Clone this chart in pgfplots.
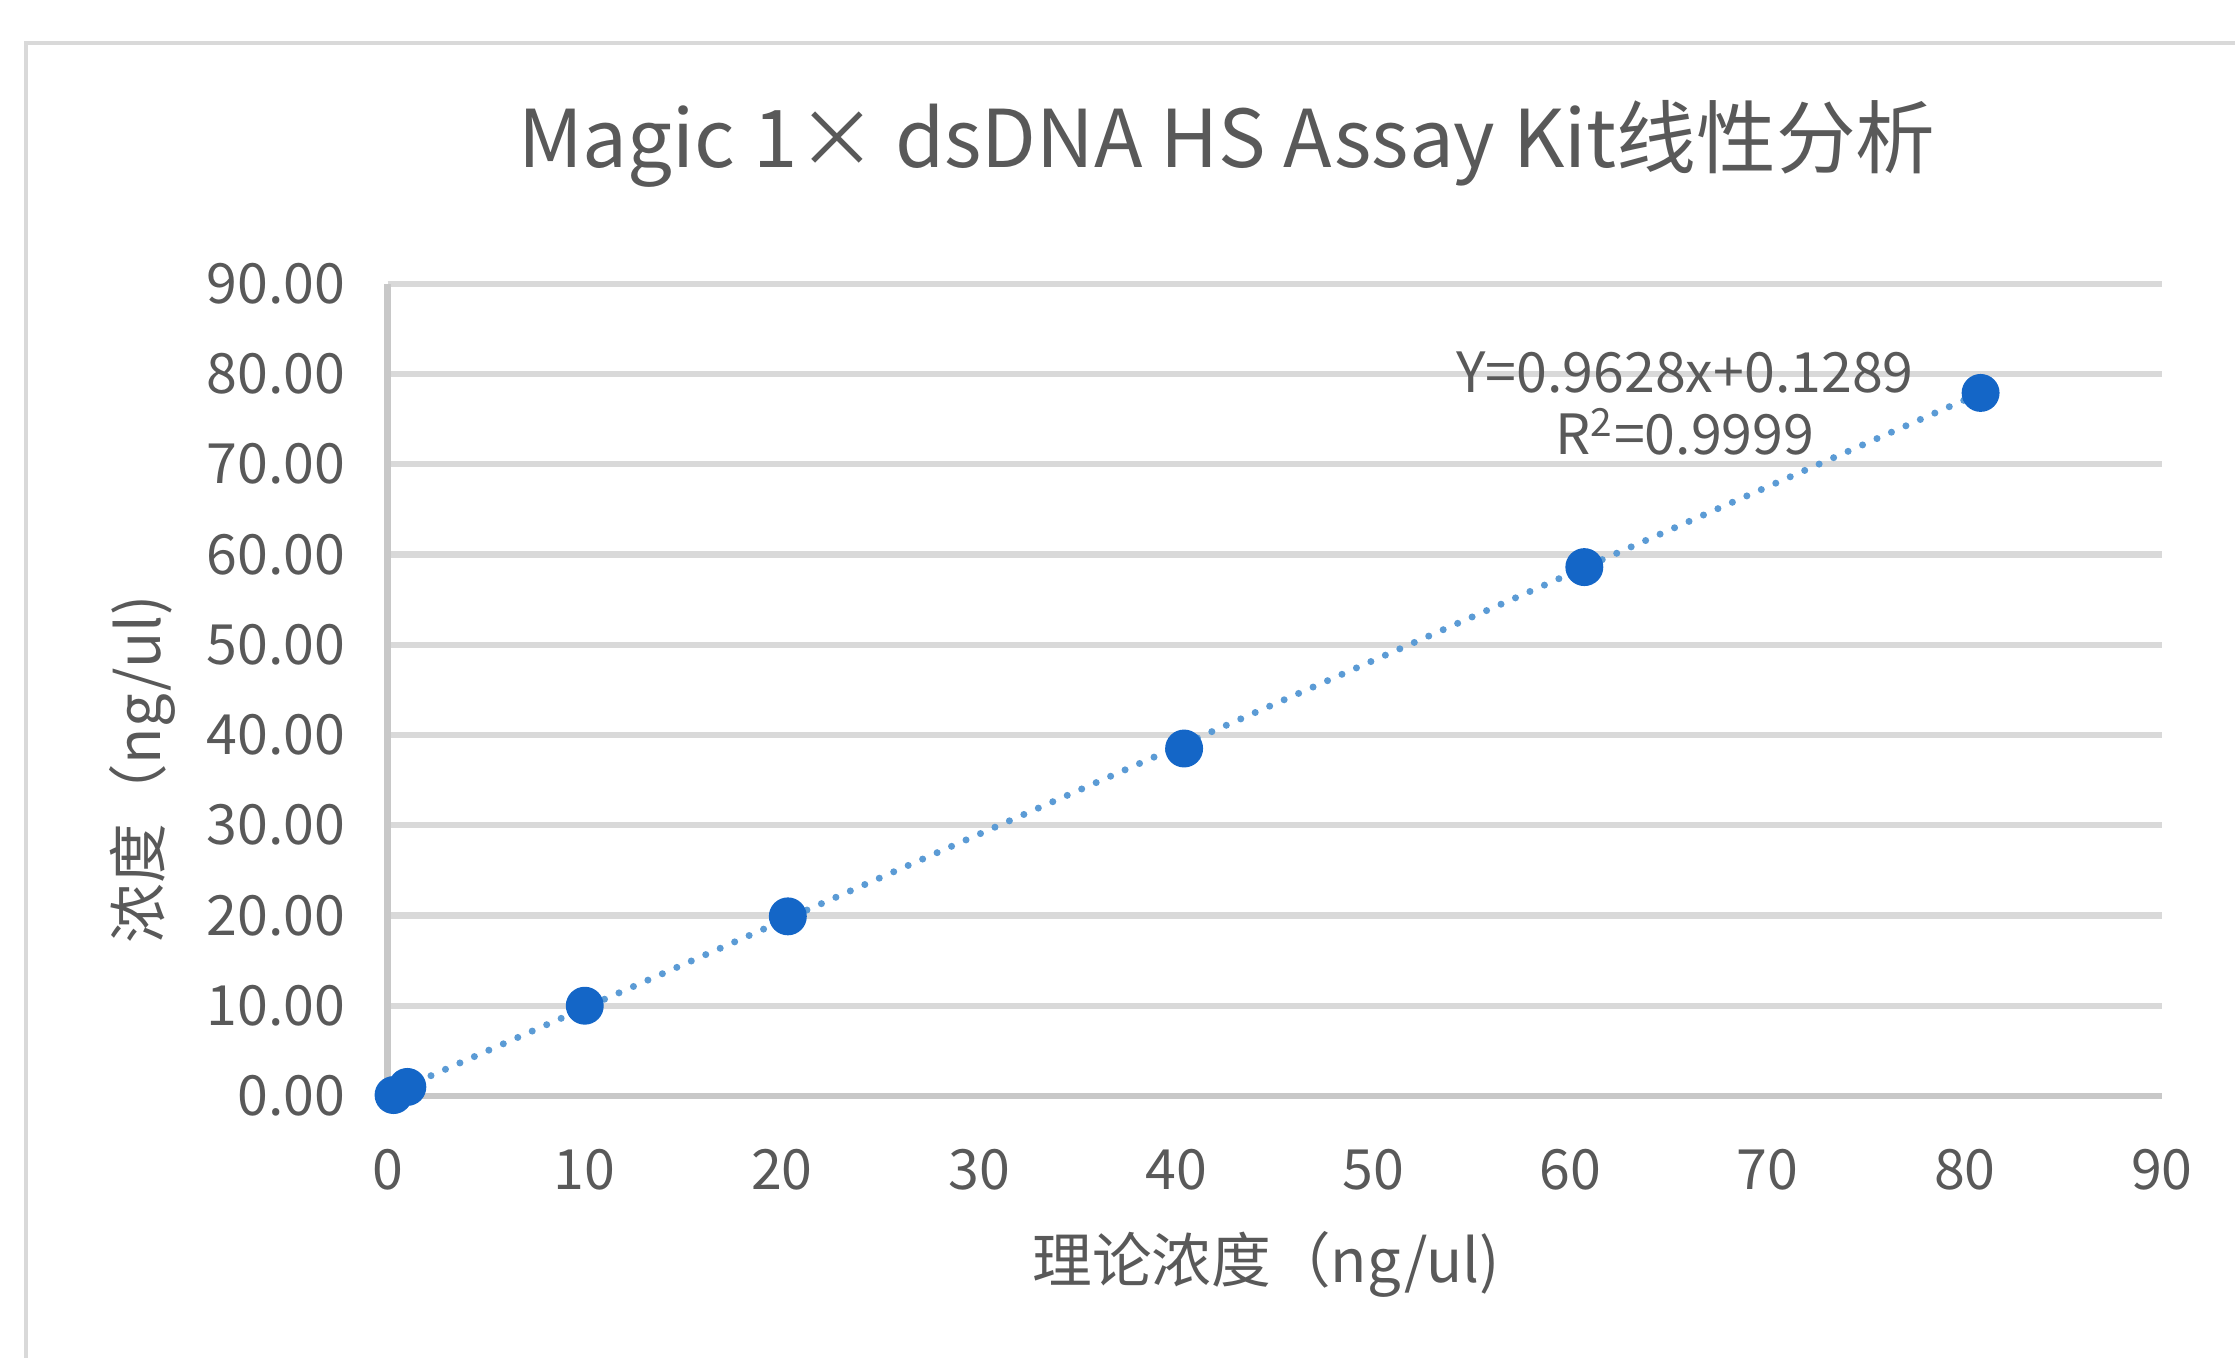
\documentclass[border=0pt]{standalone}
\usepackage{fontspec}
\setmainfont{Noto Sans CJK SC}
\usepackage{pgfplots}
\pgfplotsset{compat=1.18}
\definecolor{txt}{HTML}{595959}
\definecolor{gridc}{HTML}{D9D9D9}
\definecolor{axc}{HTML}{C8C8C8}
\definecolor{mk}{HTML}{1466C7}
\definecolor{trend}{HTML}{5B9BD5}
\begin{document}
\begin{tikzpicture}[x=1mm,y=1mm]
\path (-38.8,-26.2) rectangle (184.9,109.7);
\draw[gridc, line width=1.2pt] (-36.2,-26.2) -- (-36.2,105.4) -- (184.9,105.4);
\begin{axis}[
  at={(0,0)}, anchor=south west,
  scale only axis, width=177.6mm, height=81.3mm,
  xmin=0, xmax=90, ymin=0, ymax=90,
  xtick={0,10,...,90}, ytick={0,10,...,90},
  major tick length=0pt,
  axis x line*=bottom, axis y line*=left,
  axis line style={axc, line width=1.8pt, -},
  ymajorgrids, grid style={gridc, line width=1.8pt},
  /pgf/number format/assume math mode=true,
  yticklabel={\pgfmathprintnumber[fixed,fixed zerofill,precision=2]{\tick}},
  xticklabel={\pgfmathprintnumber[fixed,precision=0]{\tick}},
  tick label style={font=\fontsize{15.8}{19}\selectfont, text=txt},
  xticklabel style={yshift=-4.1mm},
  yticklabel style={xshift=-3.0mm},
  title={Magic 1× dsDNA HS Assay Kit线性分析},
  title style={at={(axis description cs:0.473,1.117)}, anchor=base, font=\fontsize{22.7}{27}\selectfont, text=txt},
  xlabel={理论浓度（ng/ul)},
  xlabel style={at={(axis description cs:0.495,-0.208)}, anchor=center, font=\fontsize{17}{20}\selectfont, text=txt},
  ylabel={浓度（ng/ul)},
  ylabel style={at={(axis description cs:-0.138,0.402)}, anchor=center, rotate=0, font=\fontsize{17}{20}\selectfont, text=txt},
  clip=false,
]
\addplot[trend, line width=2pt, line cap=round, dash pattern=on 0pt off 4.5pt] coordinates {(0,0.13) (80.8,77.9)};
\addplot[only marks, mark=*, mark size=5.2pt, mark options={fill=mk, draw=mk}] coordinates {
  (0.3,0.1) (1.0,1.0) (10.0,10.0) (20.3,19.9) (40.4,38.5) (60.7,58.6) (80.8,77.9)
};
\node[align=center, text=txt, font=\fontsize{15.8}{17.8}\selectfont, anchor=center] at (axis cs:65.8,76.7) {Y=0.9628x+0.1289\\R\textsuperscript{2}=0.9999};
\end{axis}
\end{tikzpicture}
\end{document}
